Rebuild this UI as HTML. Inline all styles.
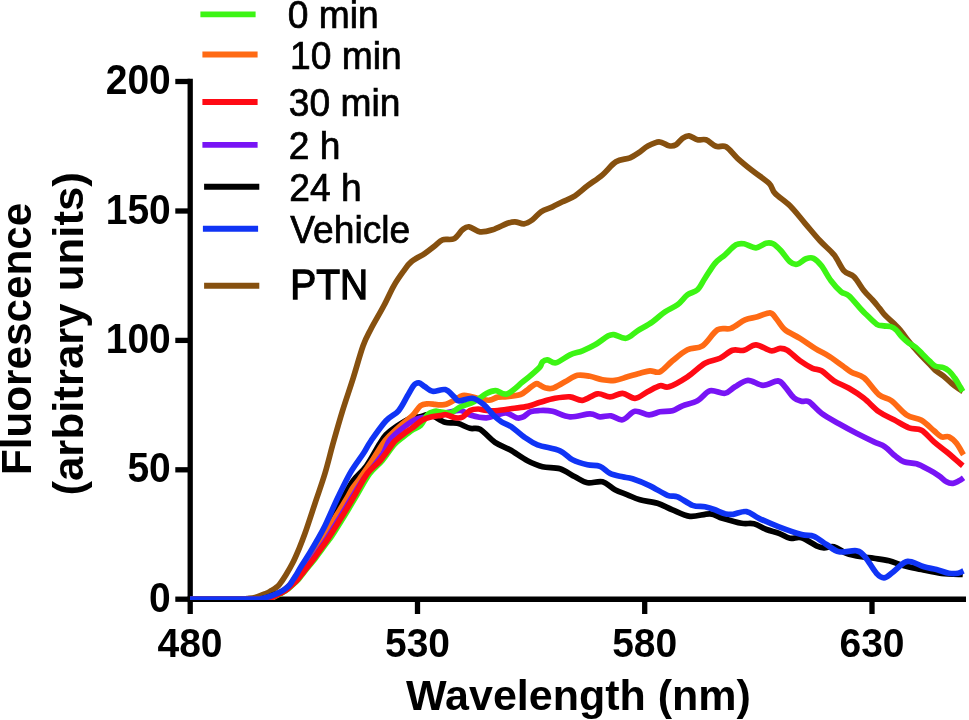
<!DOCTYPE html>
<html><head><meta charset="utf-8"><title>Fluorescence spectra</title>
<style>
html,body{margin:0;padding:0;background:#fff;}
body{width:969px;height:720px;overflow:hidden;}
svg{display:block;}
text{font-family:"Liberation Sans",Arial,Helvetica,sans-serif;fill:#000;}
.tk{font-weight:bold;font-size:39px;}
.lg{font-size:36px;}
.ti{font-weight:bold;font-size:43px;}
.cv path{fill:none;stroke-width:5.7;stroke-linejoin:round;stroke-linecap:butt;}
</style></head><body>
<svg width="969" height="720" viewBox="0 0 969 720">
<rect width="969" height="720" fill="#fff"/>
<g stroke="#000" stroke-width="5.3" fill="none">
<line x1="190.2" y1="78.8" x2="190.2" y2="614"/>
<line x1="187.5" y1="599.2" x2="966" y2="599.2"/>
<line x1="175.3" y1="81.5" x2="190" y2="81.5"/>
<line x1="175.3" y1="211" x2="190" y2="211"/>
<line x1="175.3" y1="340.4" x2="190" y2="340.4"/>
<line x1="175.3" y1="469.8" x2="190" y2="469.8"/>
<line x1="175.3" y1="599.2" x2="190" y2="599.2"/>
<line x1="417.5" y1="599" x2="417.5" y2="614"/>
<line x1="644.7" y1="599" x2="644.7" y2="614"/>
<line x1="872" y1="599" x2="872" y2="614"/>
</g>
<g class="tk" text-anchor="end">
<text transform="translate(170.8,94) scale(1,1.07)">200</text>
<text transform="translate(170.8,223.5) scale(1,1.07)">150</text>
<text transform="translate(170.8,353) scale(1,1.07)">100</text>
<text transform="translate(170.8,482.4) scale(1,1.07)">50</text>
<text transform="translate(170.8,611.8) scale(1,1.07)">0</text>
</g>
<g class="tk" text-anchor="middle">
<text transform="translate(190,657.2) scale(1,1.06)">480</text>
<text transform="translate(417.5,657.2) scale(1,1.06)">530</text>
<text transform="translate(644.7,657.2) scale(1,1.06)">580</text>
<text transform="translate(872,657.2) scale(1,1.06)">630</text>
</g>
<text class="ti" text-anchor="middle" x="578.5" y="710.4">Wavelength (nm)</text>
<text class="ti" text-anchor="middle" transform="translate(31.3,338.9) rotate(-90)" textLength="272.1" lengthAdjust="spacingAndGlyphs">Fluorescence</text>
<text class="ti" text-anchor="middle" transform="translate(82.5,333.8) rotate(-90)" textLength="323.5" lengthAdjust="spacingAndGlyphs">(arbitrary units)</text>
<line x1="200.4" y1="14.4" x2="255.60000000000002" y2="14.4" stroke="#3cf514" stroke-width="5.9"/>
<text transform="translate(287.8,28.4) scale(1,1.02)" font-size="37.2" stroke="#000" stroke-width="0.7">0 min</text>
<line x1="202.4" y1="54.5" x2="257.6" y2="54.5" stroke="#ff6a14" stroke-width="5.9"/>
<text transform="translate(290,68.5) scale(1,1.02)" font-size="37.2" stroke="#000" stroke-width="0.7">10 min</text>
<line x1="202.4" y1="102" x2="257.6" y2="102" stroke="#ff0a14" stroke-width="5.9"/>
<text transform="translate(288.8,116.0) scale(1,1.02)" font-size="37.2" stroke="#000" stroke-width="0.7">30 min</text>
<line x1="202.4" y1="144.9" x2="257.6" y2="144.9" stroke="#7814f5" stroke-width="5.9"/>
<text transform="translate(288.7,158.9) scale(1,1.02)" font-size="37.2" stroke="#000" stroke-width="0.7">2 h</text>
<line x1="204.1" y1="186.8" x2="259.3" y2="186.8" stroke="#000" stroke-width="5.9"/>
<text transform="translate(289.2,200.8) scale(1,1.02)" font-size="37.2" stroke="#000" stroke-width="0.7">24 h</text>
<line x1="202.9" y1="228.8" x2="258.1" y2="228.8" stroke="#1034f5" stroke-width="5.9"/>
<text transform="translate(290.3,242.8) scale(1,1.02)" font-size="37.2" stroke="#000" stroke-width="0.7">Vehicle</text>
<line x1="204.1" y1="285.7" x2="259.3" y2="285.7" stroke="#86500f" stroke-width="5.9"/>
<text transform="translate(290.2,299.0) scale(1,1.1)" font-size="39" stroke="#000" stroke-width="1.2">PTN</text>

<g class="cv">
<path d="M190.0,599.1C198.3,599.1 230.5,599.2 240.0,599.1C249.5,599.0 244.5,598.9 247.0,598.6C249.5,598.3 252.5,598.1 255.0,597.5C257.5,596.9 260.0,595.8 262.0,595.0C264.0,594.2 265.5,593.7 267.0,593.0C268.5,592.3 269.6,591.6 271.0,590.8C272.4,590.0 274.1,589.1 275.5,588.0C276.9,586.9 277.9,586.4 279.6,584.2C281.4,582.0 283.9,578.3 286.0,574.8C288.1,571.3 290.3,567.6 292.5,563.3C294.7,559.0 296.9,553.8 299.0,548.8C301.1,543.8 302.3,540.9 305.0,533.3C307.7,525.7 311.7,513.3 315.0,503.3C318.3,493.3 321.9,483.7 325.0,473.3C328.1,462.9 330.8,451.2 333.8,440.8C336.7,430.4 339.3,421.2 342.5,410.8C345.7,400.4 349.7,389.1 353.1,378.3C356.5,367.5 360.1,354.1 363.1,345.8C366.1,337.5 367.9,335.0 371.3,328.3C374.8,321.6 380.1,312.9 383.8,305.8C387.6,298.7 390.5,291.6 393.8,285.8C397.1,280.0 400.9,274.8 403.8,270.8C406.7,266.8 407.8,264.7 411.3,261.8C414.8,258.9 421.1,256.0 425.0,253.3C428.9,250.6 432.1,248.1 435.0,245.8C437.9,243.6 439.3,241.0 442.5,239.8C445.7,238.6 450.7,240.5 454.0,238.8C457.3,237.1 460.0,231.8 462.5,229.8C465.0,227.8 466.1,226.5 469.0,226.8C471.9,227.1 476.1,231.3 480.0,231.8C483.9,232.3 487.9,231.2 492.5,229.8C497.1,228.4 503.8,224.6 507.5,223.3C511.2,222.0 512.2,221.7 515.0,221.8C517.8,221.9 521.1,224.1 524.0,223.8C526.9,223.5 529.7,221.8 532.5,219.8C535.3,217.8 537.7,214.0 541.0,211.8C544.3,209.6 548.9,208.5 552.5,206.8C556.1,205.1 558.8,203.6 562.5,201.8C566.2,200.0 570.8,198.5 575.0,195.8C579.2,193.1 582.9,189.3 587.5,185.8C592.1,182.3 597.8,178.8 602.5,174.8C607.2,170.8 611.4,164.6 616.0,161.8C620.6,159.0 626.0,159.5 630.0,157.8C634.0,156.1 637.1,153.7 640.0,151.8C642.9,149.9 644.3,148.0 647.5,146.3C650.7,144.6 655.4,141.9 659.0,141.8C662.6,141.7 666.2,145.3 669.0,145.8C671.8,146.3 673.8,146.1 676.0,144.8C678.2,143.6 680.3,139.8 682.5,138.3C684.7,136.8 686.5,135.6 689.0,135.8C691.5,136.1 694.7,139.1 697.5,139.8C700.3,140.5 702.9,138.7 706.0,139.8C709.1,140.9 712.7,145.1 716.0,146.3C719.3,147.5 722.4,144.8 726.0,146.8C729.6,148.8 733.1,154.3 737.5,158.3C741.9,162.3 747.2,166.6 752.5,170.8C757.8,175.0 765.2,179.6 769.0,183.3C772.8,187.1 771.5,189.6 775.0,193.3C778.5,197.1 785.0,200.8 790.0,205.8C795.0,210.8 800.0,217.5 805.0,223.3C810.0,229.1 815.2,235.6 820.0,240.8C824.8,246.1 830.0,249.8 834.0,254.8C838.0,259.8 840.7,267.1 844.0,270.8C847.3,274.5 850.7,273.5 854.0,276.8C857.3,280.1 860.9,286.9 864.0,290.8C867.1,294.7 870.0,297.1 872.6,300.0C875.2,302.9 877.5,305.8 879.6,308.3C881.7,310.9 882.8,312.9 885.1,315.3C887.4,317.8 890.9,320.5 893.4,323.0C895.9,325.5 898.1,327.4 900.4,330.2C902.7,332.9 905.0,336.6 907.3,339.5C909.6,342.4 912.0,345.2 914.3,347.9C916.6,350.6 918.9,353.1 921.2,355.6C923.5,358.1 925.9,360.3 928.2,362.7C930.5,365.1 932.6,367.9 935.1,370.1C937.6,372.3 940.6,373.8 943.4,376.0C946.2,378.2 949.2,381.4 951.8,383.5C954.3,385.6 956.9,387.5 958.7,388.8C960.5,390.1 962.1,391.1 962.8,391.5" stroke="#86500f"/>
<path d="M190.0,599.1C201.0,599.1 244.0,599.2 256.0,599.1C268.0,599.0 260.0,599.0 262.0,598.7C264.0,598.4 266.0,597.9 268.0,597.2C270.0,596.6 272.0,595.5 274.0,594.8C276.0,594.1 278.0,593.7 280.0,592.8C282.0,591.9 284.0,590.9 286.0,589.2C288.0,587.5 290.0,585.0 292.0,582.5C294.0,580.0 295.9,577.1 298.0,574.5C300.1,571.9 300.8,572.4 304.5,566.8C308.2,561.2 315.8,548.9 320.5,540.8C325.2,532.7 329.2,525.4 333.0,518.3C336.8,511.2 339.7,504.6 343.0,498.3C346.3,492.1 349.1,486.2 353.0,480.8C356.9,475.4 362.2,471.8 366.5,465.8C370.8,459.8 375.8,450.0 379.0,444.8C382.2,439.6 383.2,437.8 386.0,434.8C388.8,431.8 392.0,429.6 396.0,426.8C400.0,424.1 406.0,420.0 410.0,418.3C414.0,416.6 416.7,417.4 420.0,416.8C423.3,416.2 425.8,413.9 430.0,414.8C434.2,415.7 440.4,420.9 445.0,422.3C449.6,423.7 453.3,422.3 457.5,423.3C461.7,424.3 466.2,427.3 470.0,428.3C473.8,429.3 475.8,427.0 480.0,429.3C484.2,431.6 490.0,438.9 495.0,442.3C500.0,445.7 504.6,446.7 510.0,449.8C515.4,452.9 522.1,458.0 527.5,460.8C532.9,463.6 537.1,465.5 542.5,466.8C547.9,468.1 554.6,467.1 560.0,468.8C565.4,470.5 570.4,474.5 575.0,476.8C579.6,479.1 582.9,482.0 587.5,482.8C592.1,483.6 597.9,480.6 602.5,481.8C607.1,483.0 610.8,487.6 615.0,489.8C619.2,492.0 623.3,493.1 627.5,494.8C631.7,496.5 635.0,498.4 640.0,499.8C645.0,501.2 652.1,501.6 657.5,503.3C662.9,505.0 667.1,507.6 672.5,509.8C677.9,512.0 683.8,515.6 690.0,516.3C696.2,517.0 704.6,513.5 710.0,513.8C715.4,514.1 717.2,516.7 722.5,518.3C727.8,519.9 736.2,522.4 741.5,523.3C746.8,524.2 749.8,522.8 754.0,523.8C758.2,524.8 762.3,527.9 766.5,529.5C770.7,531.1 775.1,531.8 779.0,533.3C782.9,534.8 786.2,537.5 790.0,538.3C793.8,539.0 797.1,536.5 801.5,537.8C805.9,539.0 812.8,544.1 816.5,545.8C820.2,547.5 821.1,547.6 824.0,547.8C826.9,548.0 830.2,545.9 834.0,546.8C837.8,547.7 841.9,551.6 846.5,553.3C851.1,555.0 856.9,556.0 861.5,556.8C866.1,557.6 869.4,557.6 874.0,558.3C878.6,559.0 884.0,559.5 889.0,560.8C894.0,562.0 898.6,564.3 904.0,565.8C909.4,567.2 915.2,568.2 921.5,569.5C927.8,570.8 934.6,572.5 941.5,573.3C948.4,574.1 959.2,574.3 962.8,574.5" stroke="#000"/>
<path d="M190.0,599.1C201.5,599.1 246.3,599.2 259.0,599.1C271.7,599.0 263.8,599.0 266.0,598.6C268.2,598.2 270.2,597.5 272.0,596.8C273.8,596.1 275.3,595.3 277.0,594.4C278.7,593.5 280.3,592.6 282.0,591.5C283.7,590.4 285.1,589.3 287.0,587.5C288.9,585.7 291.3,583.5 293.5,580.8C295.7,578.0 297.8,574.3 300.0,571.0C302.2,567.7 303.1,566.2 306.8,560.8C310.5,555.4 317.3,546.0 322.0,538.8C326.7,531.6 331.0,524.3 335.0,517.8C339.0,511.3 343.1,504.7 346.0,499.8C348.9,494.9 350.2,491.9 352.5,488.3C354.8,484.7 356.8,482.9 360.0,478.3C363.2,473.7 367.8,467.1 372.0,460.8C376.2,454.5 381.1,445.8 385.4,440.3C389.7,434.8 393.3,432.1 397.8,428.0C402.3,423.9 408.4,419.5 412.2,415.8C416.0,412.1 417.9,407.8 420.5,405.8C423.1,403.8 425.3,404.0 427.7,403.8C430.1,403.6 432.9,404.2 435.0,404.4C437.1,404.6 438.1,404.8 440.0,404.8C441.9,404.8 443.8,405.1 446.2,404.3C448.6,403.5 451.6,401.6 454.4,400.2C457.1,398.8 459.9,396.2 462.7,395.6C465.5,395.0 468.1,396.1 471.0,396.6C473.9,397.1 476.9,398.2 480.0,398.8C483.1,399.4 486.5,400.5 489.5,400.2C492.5,399.9 494.9,397.7 497.8,397.1C500.7,396.5 503.2,397.0 507.0,396.6C510.8,396.2 516.9,395.8 520.5,394.5C524.1,393.2 526.1,390.6 528.7,388.8C531.3,387.0 534.1,384.4 536.0,383.8C537.9,383.2 538.5,384.5 540.0,385.2C541.5,385.9 542.9,387.3 545.0,387.8C547.1,388.3 549.2,389.3 552.5,388.3C555.8,387.3 560.8,384.0 565.0,381.8C569.2,379.6 573.3,376.2 577.5,375.3C581.7,374.4 585.8,375.6 590.0,376.3C594.2,377.1 598.3,379.1 602.5,379.8C606.7,380.5 610.8,380.8 615.0,380.3C619.2,379.8 623.3,378.0 627.5,376.8C631.7,375.6 636.2,374.3 640.0,373.3C643.8,372.3 646.7,371.1 650.0,370.8C653.3,370.6 656.2,373.5 660.0,371.8C663.8,370.1 667.9,364.5 672.5,360.8C677.1,357.1 682.5,352.3 687.5,349.8C692.5,347.3 697.5,349.1 702.5,345.8C707.5,342.5 712.8,332.7 717.5,329.8C722.2,326.9 726.4,330.0 731.0,328.3C735.6,326.6 740.6,321.7 745.0,319.8C749.4,317.9 753.3,318.0 757.5,316.8C761.7,315.6 766.9,312.6 770.0,312.8C773.1,313.1 773.5,315.5 776.0,318.3C778.5,321.1 781.0,326.5 785.0,329.8C789.0,333.1 795.0,335.2 800.0,338.3C805.0,341.4 810.0,345.2 815.0,348.3C820.0,351.4 825.4,353.9 830.0,356.8C834.6,359.7 838.9,363.2 842.5,365.8C846.1,368.4 847.9,370.3 851.5,372.3C855.1,374.3 859.4,374.1 864.0,377.8C868.6,381.6 874.4,391.0 879.0,394.8C883.6,398.6 886.9,397.5 891.5,400.8C896.1,404.1 901.5,411.6 906.5,414.8C911.5,418.1 916.9,417.6 921.5,420.3C926.1,423.0 930.7,428.1 934.0,430.8C937.3,433.6 939.0,435.8 941.5,436.8C944.0,437.8 946.5,435.7 949.0,436.8C951.5,437.9 954.1,440.3 956.5,443.3C958.9,446.3 962.3,452.9 963.5,454.8" stroke="#ff6a14"/>
<path d="M190.0,599.1C201.7,599.1 247.2,599.2 260.0,599.1C272.8,599.0 264.8,599.0 267.0,598.6C269.2,598.2 271.2,597.5 273.0,596.8C274.8,596.1 276.3,595.3 278.0,594.4C279.7,593.5 281.2,592.8 283.0,591.6C284.8,590.5 286.3,589.3 288.5,587.5C290.7,585.7 293.6,583.5 296.0,580.8C298.4,578.0 300.4,574.3 303.0,571.0C305.6,567.7 307.6,566.2 311.5,560.8C315.4,555.4 322.0,546.0 326.7,538.8C331.4,531.6 335.5,524.6 339.7,517.8C343.9,511.0 348.0,503.8 351.7,497.8C355.4,491.8 358.4,486.6 361.7,481.8C365.0,477.0 368.1,473.6 371.7,468.8C375.3,464.1 380.2,458.0 383.2,453.3C386.2,448.6 386.7,444.3 389.5,440.5C392.3,436.7 396.2,433.5 400.0,430.3C403.8,427.1 408.6,423.4 412.0,421.3C415.4,419.2 417.2,418.8 420.5,418.0C423.8,417.2 428.8,416.9 432.0,416.3C435.2,415.7 437.0,415.2 440.0,414.5C443.0,413.8 446.6,412.7 450.0,412.0C453.4,411.3 457.1,410.0 460.6,410.5C464.1,411.0 466.7,414.0 471.0,415.2C475.3,416.4 481.9,417.9 486.4,417.8C490.9,417.7 494.4,415.5 497.8,414.7C501.2,413.9 503.9,412.6 507.0,413.1C510.1,413.6 513.8,417.1 516.4,417.8C519.0,418.5 520.1,418.2 522.5,417.2C524.9,416.2 527.9,412.7 530.8,411.6C533.7,410.5 536.4,410.6 540.0,410.5C543.6,410.4 547.5,410.2 552.5,411.3C557.5,412.4 563.8,416.4 570.0,416.8C576.2,417.2 585.0,413.8 590.0,413.8C595.0,413.8 596.5,416.5 600.0,416.8C603.5,417.1 607.2,415.3 611.0,415.8C614.8,416.3 618.5,420.6 622.5,419.8C626.5,419.1 630.6,412.1 635.0,411.3C639.4,410.5 644.8,414.7 649.0,414.8C653.2,414.9 656.1,412.5 660.0,411.8C663.9,411.1 668.8,411.8 672.5,410.8C676.2,409.8 678.3,407.5 682.5,405.8C686.7,404.1 692.9,403.3 697.5,400.8C702.1,398.3 705.4,392.1 710.0,390.8C714.6,389.6 720.8,394.0 725.0,393.3C729.2,392.6 731.2,389.0 735.0,386.8C738.8,384.6 743.3,380.6 748.0,380.3C752.7,380.1 758.0,385.2 763.0,385.3C768.0,385.4 774.3,380.6 778.0,380.8C781.7,381.1 782.3,384.0 785.0,386.8C787.7,389.6 791.2,395.4 794.0,397.8C796.8,400.2 799.0,400.6 801.5,401.3C804.0,402.0 805.7,399.8 809.0,401.8C812.3,403.8 816.5,409.6 821.5,413.3C826.5,417.0 833.2,420.5 839.0,423.8C844.8,427.1 850.7,430.3 856.5,433.3C862.3,436.3 869.2,439.6 874.0,441.8C878.8,444.1 881.5,444.5 885.0,446.8C888.5,449.1 891.8,453.3 895.0,455.8C898.2,458.3 900.4,460.5 904.0,461.8C907.6,463.1 912.3,462.5 916.5,463.8C920.7,465.1 925.2,467.8 929.0,469.8C932.8,471.8 936.1,473.8 939.0,475.8C941.9,477.8 944.2,480.6 946.5,481.8C948.8,483.1 950.9,483.5 953.0,483.3C955.1,483.1 957.2,481.7 959.0,480.8C960.8,479.9 962.8,478.3 963.5,477.8" stroke="#7814f5"/>
<path d="M190.0,599.1C202.2,599.1 249.8,599.2 263.0,599.1C276.2,599.0 267.2,599.1 269.0,598.8C270.8,598.4 272.3,597.8 274.0,597.0C275.7,596.2 277.7,595.1 279.4,594.2C281.1,593.3 282.5,592.5 284.0,591.6C285.5,590.7 286.6,590.1 288.3,588.8C290.0,587.4 292.5,585.1 294.2,583.5C295.9,581.9 296.8,581.2 298.5,579.3C300.2,577.4 302.3,574.4 304.2,572.0C306.1,569.6 308.0,567.3 309.9,565.0C311.8,562.7 313.5,560.8 315.4,558.3C317.3,555.8 319.2,553.0 321.4,550.0C323.6,547.0 327.0,542.4 328.8,540.0C330.6,537.6 329.4,539.8 332.0,535.8C334.6,531.8 340.3,522.6 344.5,515.8C348.7,509.0 352.8,501.8 357.0,494.8C361.2,487.8 365.3,479.5 369.5,473.8C373.7,468.1 377.9,465.6 382.0,460.8C386.1,456.0 390.3,448.9 394.0,444.8C397.7,440.7 401.0,438.8 404.0,436.3C407.0,433.8 409.4,431.8 412.2,430.0C414.9,428.2 417.9,428.1 420.5,425.5C423.1,422.9 425.3,416.9 427.7,414.5C430.1,412.1 432.9,411.8 435.0,411.3C437.1,410.9 437.4,411.5 440.0,411.8C442.6,412.1 446.9,413.8 450.3,413.0C453.7,412.2 456.7,408.7 460.6,406.8C464.6,404.9 469.7,404.0 474.0,401.8C478.3,399.6 482.8,395.4 486.4,393.5C490.0,391.6 492.3,390.5 495.7,390.6C499.1,390.7 502.5,395.4 507.0,394.0C511.5,392.6 518.2,385.5 522.5,382.1C526.8,378.7 529.6,376.4 532.5,373.8C535.4,371.2 538.3,368.8 540.0,366.8C541.7,364.8 541.2,363.0 542.5,361.8C543.8,360.6 545.2,359.6 547.5,359.8C549.8,360.0 552.2,363.6 556.0,362.8C559.8,362.0 565.6,356.8 570.0,354.8C574.4,352.8 578.3,352.5 582.5,350.8C586.7,349.1 590.8,347.2 595.0,344.8C599.2,342.4 604.4,338.0 607.5,336.3C610.6,334.6 610.7,334.3 613.8,334.6C616.8,334.9 622.0,338.9 626.0,338.3C630.0,337.7 633.1,333.6 637.5,330.8C641.9,328.1 647.9,325.0 652.5,321.8C657.1,318.6 660.8,314.6 665.0,311.8C669.2,309.0 673.8,307.6 677.5,304.8C681.2,302.0 684.2,297.3 687.5,294.8C690.8,292.3 694.6,292.6 697.5,289.8C700.4,287.1 702.1,282.7 705.0,278.3C707.9,273.9 711.7,267.2 715.0,263.3C718.3,259.4 721.5,257.9 725.0,254.8C728.5,251.7 732.8,246.6 736.0,244.8C739.2,243.0 740.7,243.3 744.0,243.8C747.3,244.3 752.3,247.9 756.0,247.8C759.7,247.7 763.2,244.0 766.0,243.3C768.8,242.6 770.5,242.6 773.0,243.8C775.5,245.1 778.2,247.8 781.0,250.8C783.8,253.8 787.3,259.6 790.0,261.8C792.7,264.1 794.3,264.8 797.0,264.3C799.7,263.8 803.2,259.8 806.0,258.8C808.8,257.8 810.9,257.1 813.5,258.3C816.1,259.5 818.6,262.1 821.5,265.8C824.4,269.6 827.8,276.5 831.0,280.8C834.2,285.1 838.0,289.3 841.0,291.8C844.0,294.3 845.6,292.8 849.0,295.8C852.4,298.8 858.5,306.6 861.5,309.8C864.5,313.1 864.5,312.9 867.0,315.3C869.5,317.7 874.0,322.5 876.8,324.3C879.6,326.1 881.4,325.5 883.7,325.9C886.0,326.3 888.6,325.9 890.7,326.6C892.8,327.3 894.4,328.3 896.2,330.0C898.1,331.7 899.7,334.6 901.8,336.8C903.9,339.0 906.4,341.2 908.7,343.0C911.0,344.8 913.4,345.5 915.7,347.4C918.0,349.3 920.3,351.9 922.6,354.2C924.9,356.5 927.5,359.1 929.6,361.1C931.7,363.1 932.8,364.9 935.1,366.0C937.4,367.1 941.1,366.8 943.4,367.6C945.7,368.4 947.1,369.3 949.0,371.0C950.9,372.7 952.8,375.2 954.6,377.8C956.5,380.4 958.7,384.5 960.1,386.8C961.5,389.1 962.3,390.7 962.8,391.5" stroke="#3cf514"/>
<path d="M190.0,599.1C202.0,599.1 249.0,599.2 262.0,599.1C275.0,599.0 266.1,599.1 268.0,598.8C269.9,598.4 271.7,597.8 273.5,597.0C275.3,596.2 277.2,595.0 278.9,594.1C280.6,593.2 282.0,592.4 283.5,591.5C285.0,590.6 286.1,590.1 287.8,588.7C289.5,587.4 292.0,585.0 293.7,583.4C295.4,581.8 296.3,581.1 297.9,579.2C299.5,577.3 301.6,574.4 303.5,572.0C305.4,569.6 307.2,567.3 309.0,565.0C310.8,562.7 312.3,560.8 314.1,558.3C315.9,555.8 317.8,553.0 320.0,550.0C322.2,547.0 325.5,542.4 327.2,540.0C328.9,537.6 327.4,539.8 330.0,535.8C332.6,531.8 338.3,522.6 342.5,515.8C346.7,509.0 350.8,501.9 355.0,494.8C359.2,487.7 363.3,479.0 367.5,473.3C371.7,467.6 375.8,465.7 380.0,460.8C384.2,455.9 389.9,447.4 392.5,444.0C395.1,440.6 393.8,442.0 395.7,440.3C397.6,438.6 401.2,435.8 404.0,433.7C406.8,431.6 409.1,430.3 412.2,428.0C415.3,425.7 419.2,421.9 422.5,420.0C425.8,418.1 429.1,417.5 432.0,416.8C434.9,416.1 437.6,415.9 440.0,415.6C442.4,415.3 443.6,414.4 446.2,414.8C448.8,415.2 452.8,417.4 455.5,417.8C458.2,418.2 460.3,418.2 462.7,417.0C465.1,415.8 467.4,411.8 470.0,410.5C472.6,409.2 475.5,409.0 478.2,409.0C480.9,409.0 483.1,410.2 486.4,410.5C489.7,410.8 493.5,410.8 497.8,410.5C502.1,410.2 507.2,409.2 512.2,408.5C517.2,407.8 523.1,407.4 527.7,406.4C532.3,405.4 535.5,403.6 540.0,402.3C544.5,401.0 550.0,399.2 555.0,398.3C560.0,397.4 565.4,396.5 570.0,396.8C574.6,397.1 577.9,400.8 582.5,400.3C587.1,399.8 592.9,394.4 597.5,393.8C602.1,393.2 605.8,396.9 610.0,396.8C614.2,396.7 618.3,393.1 622.5,393.3C626.7,393.6 630.8,398.6 635.0,398.3C639.2,398.1 643.3,393.9 647.5,391.8C651.7,389.7 656.4,386.6 660.0,385.8C663.6,385.0 664.4,388.3 669.0,386.8C673.6,385.3 681.5,380.7 687.5,376.8C693.5,372.9 699.6,366.4 705.0,363.3C710.4,360.2 715.4,360.5 720.0,358.3C724.6,356.1 728.5,351.6 732.5,350.3C736.5,349.0 740.1,351.2 744.0,350.3C747.9,349.4 751.5,344.7 756.0,344.8C760.5,344.9 767.0,350.2 771.0,350.8C775.0,351.4 777.2,348.4 780.0,348.3C782.8,348.2 784.2,348.2 787.5,350.3C790.8,352.4 795.8,357.8 800.0,360.8C804.2,363.8 808.9,366.6 812.5,368.3C816.1,370.0 817.9,368.7 821.5,370.8C825.1,372.9 829.4,377.9 834.0,380.8C838.6,383.7 844.0,385.4 849.0,388.3C854.0,391.2 859.0,394.4 864.0,398.3C869.0,402.2 874.0,408.2 879.0,411.8C884.0,415.4 889.0,417.1 894.0,419.8C899.0,422.5 904.4,426.1 909.0,427.8C913.6,429.6 917.3,428.0 921.5,430.3C925.7,432.6 929.8,438.2 934.0,441.8C938.2,445.4 941.7,447.8 946.5,451.8C951.3,455.8 960.0,463.5 962.8,465.8" stroke="#ff0a14"/>
<path d="M190.0,599.1C200.8,599.1 243.2,599.2 255.0,599.1C266.8,599.0 259.2,599.0 261.0,598.7C262.8,598.5 264.3,598.1 266.0,597.6C267.7,597.1 269.5,596.5 271.0,596.0C272.5,595.5 273.6,595.0 275.0,594.4C276.4,593.8 277.9,593.2 279.6,592.3C281.3,591.4 283.4,590.2 285.0,589.0C286.6,587.8 288.2,586.7 289.5,585.2C290.8,583.7 291.7,581.8 292.9,580.0C294.1,578.2 295.0,577.0 296.5,574.5C298.0,572.0 299.8,568.5 302.0,565.0C304.2,561.5 306.9,557.5 309.5,553.3C312.1,549.1 314.7,544.6 317.3,540.0C319.9,535.4 321.6,532.8 325.0,525.8C328.4,518.8 333.3,507.1 337.5,498.3C341.7,489.6 345.7,480.8 350.0,473.3C354.3,465.8 360.0,458.7 363.5,453.3C367.0,447.9 367.2,446.2 371.0,440.8C374.8,435.4 381.4,425.8 386.0,420.8C390.6,415.8 394.9,415.0 398.5,410.8C402.1,406.6 405.0,400.1 407.5,395.8C410.0,391.6 411.9,387.5 413.8,385.3C415.6,383.1 416.9,382.6 418.8,382.8C420.6,383.1 422.7,385.4 425.0,386.8C427.3,388.2 429.1,390.8 432.5,391.3C435.9,391.8 441.7,388.7 445.2,389.6C448.8,390.5 451.7,394.9 454.0,396.8C456.3,398.7 455.9,400.6 459.0,400.8C462.1,401.1 468.3,397.6 472.5,398.3C476.7,399.0 480.4,401.9 484.0,404.8C487.6,407.7 491.1,413.0 494.0,415.8C496.9,418.6 498.6,420.0 501.5,421.8C504.4,423.6 507.8,424.3 511.5,426.8C515.2,429.3 519.7,433.8 524.0,436.8C528.3,439.8 531.5,442.5 537.5,444.8C543.5,447.1 554.2,448.3 560.0,450.8C565.8,453.3 567.9,457.5 572.5,459.8C577.1,462.1 582.9,463.7 587.5,464.8C592.1,465.9 596.2,464.9 600.0,466.3C603.8,467.7 606.2,471.6 610.0,473.3C613.8,475.1 618.8,475.9 622.5,476.8C626.2,477.7 627.9,477.3 632.5,478.8C637.1,480.3 644.2,483.1 650.0,485.8C655.8,488.6 662.9,493.5 667.5,495.3C672.1,497.1 673.3,495.1 677.5,496.8C681.7,498.5 687.9,503.6 692.5,505.3C697.1,507.0 701.2,506.1 705.0,506.8C708.8,507.6 711.7,508.6 715.0,509.8C718.3,511.0 722.0,513.0 725.0,513.8C728.0,514.5 729.4,514.7 733.0,514.3C736.6,513.9 742.2,510.9 746.5,511.6C750.8,512.3 753.6,515.8 759.0,518.3C764.4,520.8 771.9,524.1 779.0,526.8C786.1,529.5 795.7,532.9 801.5,534.5C807.3,536.1 809.8,534.6 814.0,536.3C818.2,538.0 822.3,541.9 826.5,544.5C830.7,547.1 834.0,550.8 839.0,551.8C844.0,552.8 852.2,550.0 856.5,550.8C860.8,551.6 861.7,553.0 865.0,556.8C868.3,560.5 873.3,569.8 876.5,573.3C879.7,576.8 881.5,577.8 884.0,577.8C886.5,577.8 888.2,575.8 891.5,573.3C894.8,570.8 900.7,564.7 904.0,562.8C907.3,560.9 908.2,561.1 911.5,561.8C914.8,562.5 919.8,565.5 924.0,566.8C928.2,568.1 932.3,568.4 936.5,569.5C940.7,570.6 945.4,572.7 949.0,573.3C952.6,573.9 955.6,573.7 958.0,573.3C960.4,572.9 962.6,571.2 963.5,570.8" stroke="#1034f5"/>
</g>
<line x1="190" y1="601.05" x2="966" y2="601.05" stroke="#000" stroke-width="1.9"/>
</svg>
</body></html>
